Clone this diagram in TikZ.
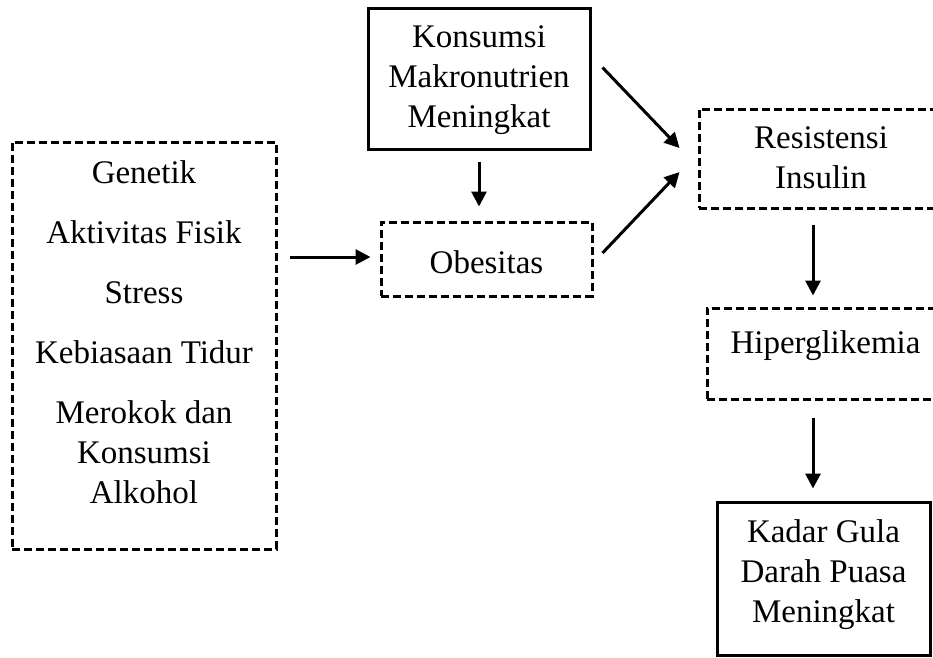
\documentclass[tikz,border=0pt]{standalone}
\usepackage{fontspec}
\setmainfont{Liberation Serif}
\usetikzlibrary{arrows.meta}
\usetikzlibrary{calc}

\begin{document}
\begin{tikzpicture}[x=1pt, y=-1pt,
    txt/.style={font=\fontsize{33}{40}\selectfont, align=center, inner sep=0pt},
    solidbox/.style={txt, draw, line width=3pt},
    dashbox/.style={txt, draw, line width=3pt, dash pattern=on 8pt off 4pt},
    arrow/.style={-{Triangle[length=15pt, width=15pt]}, line width=3pt}]

          \useasboundingbox (0,0) rectangle (933,657);
          \clip (0,0) rectangle (933,657);

          % boxes
          \node[dashbox, minimum width=264pt, minimum height=407pt, text height=344pt, text depth=29pt]
            (faktor) at (144,345.5) {Genetik\\[20pt] Aktivitas Fisik\\[20pt] Stress\\[20pt] Kebiasaan Tidur\\[20pt] Merokok dan\\ Konsumsi\\ Alkohol};
          \node[solidbox, minimum width=222pt, minimum height=141pt, text height=102pt, text depth=5pt]
            (makro) at (479,78.5) {Konsumsi\\ Makronutrien\\ Meningkat};
          \node[dashbox, minimum width=211pt, minimum height=74pt, text height=30pt, text depth=2pt]
            (obes) at (486.5,259) {Obesitas};
          \node[dashbox, minimum width=244pt, minimum height=99pt, text height=64pt, text depth=5pt]
            (resist) at (821,158.5) {Resistensi\\ Insulin};
          \node[dashbox, minimum width=237pt, minimum height=91pt, text height=22pt, text depth=23pt]
            (hiper) at (825.5,353.5) {Hiperglikemia};
          \node[solidbox, minimum width=213pt, minimum height=153pt, text height=101pt, text depth=14pt]
            (kadar) at (823.5,578.5) {Kadar Gula\\ Darah Puasa\\ Meningkat};

          % arrows
          \draw[arrow] ($(faktor.east |- obes.west)+(12,-2)$) -- ($(obes.west)+(-9,-2)$);
          \draw[arrow] ($(makro.south)+(0,11)$) -- ($(makro.south |- obes.north)+(0,-14)$);
          \draw[arrow] ($(makro.north east)+(11,61)$) -- ($(resist.west)+(-18,-10.5)$);
          \draw[arrow] ($(obes.east)+(9,-6)$) -- ($(resist.west)+(-18,13.5)$);
          \draw[arrow] ($(resist.south)+(-8,15)$) -- ($(hiper.north)+(-12.5,-11)$);
          \draw[arrow] ($(hiper.south)+(-12.5,17)$) -- ($(kadar.north)+(-10.5,-12)$);
        \end{tikzpicture}
\end{document}
